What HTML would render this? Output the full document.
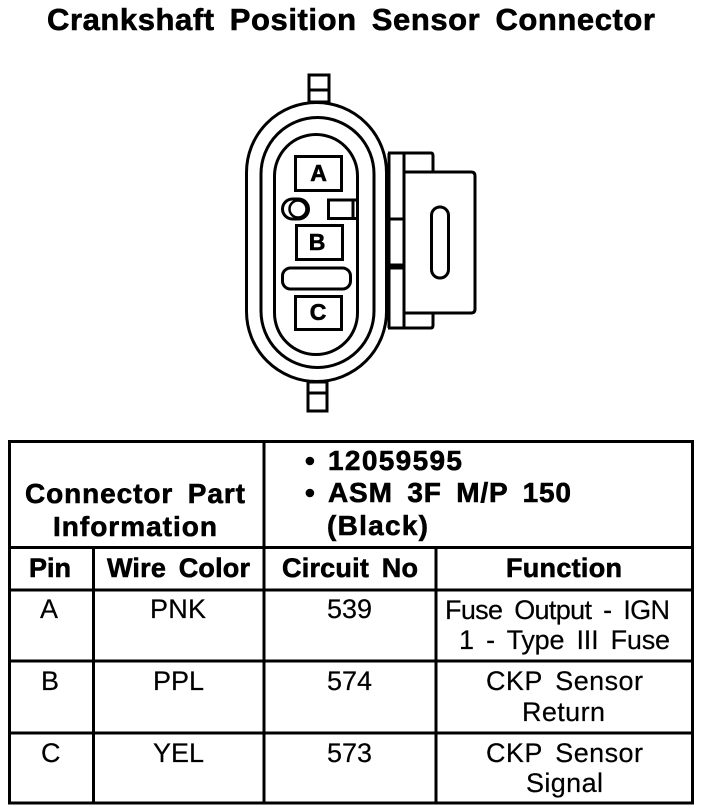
<!DOCTYPE html>
<html><head><meta charset="utf-8"><style>
html,body{margin:0;padding:0;background:#fff}
svg{display:block}
text{font-family:"Liberation Sans",sans-serif;fill:#000}
.b{font-weight:bold;stroke:#000;stroke-width:.6}
.n{stroke:#000;stroke-width:.2}
</style></head><body>
<svg width="704" height="812" viewBox="0 0 704 812" xmlns="http://www.w3.org/2000/svg">
<rect width="704" height="812" fill="#fff"/>
<text class="b" x="47" y="30" font-size="31" textLength="608" word-spacing="6">Crankshaft Position Sensor Connector</text>

<g fill="none" stroke="#000" stroke-width="3">
  <rect x="309" y="75" width="20" height="27"/><path d="M309 90H329"/>
  <rect x="308" y="382" width="19" height="29"/><path d="M308 393H327"/>
  <rect x="246.500" y="102.500" width="140" height="279" rx="70" ry="70"/>
  <rect x="261" y="117.500" width="113" height="250" rx="56.500" ry="56.500"/>
  <rect x="274.500" y="134.500" width="83" height="220" rx="41.500" ry="41.500"/>
  <rect x="295.500" y="156.500" width="46" height="34"/>
  <rect x="296.500" y="225.500" width="46" height="34"/>
  <rect x="295.500" y="296.500" width="46" height="33"/>
  <rect x="282.500" y="268" width="68" height="21" rx="8"/>
  <rect x="282.500" y="199" width="26" height="20" rx="10"/>
  <circle cx="298" cy="209" r="8.500" stroke-width="2.500"/>
  <path d="M358 200H328.500V218.500H358M353 200V218.500"/>
  <path d="M388 153H431Q433 153 433 156V171M389 153V328M404 153V328M388 219H404M388 265H404M388 268H404M388 328H431Q433 328 433 325V313"/>
  <path d="M404 172H471Q475 172 475 176V309Q475 313 471 313H404"/>
  <rect x="431.500" y="207" width="17" height="71" rx="8.500"/>
</g>
<text class="b" x="318.500" y="181" font-size="23" text-anchor="middle">A</text>
<text class="b" x="317" y="250" font-size="23" text-anchor="middle">B</text>
<text class="b" x="318" y="320" font-size="23" text-anchor="middle">C</text>

<g fill="none" stroke="#000" stroke-width="3">
  <rect x="9.500" y="441.500" width="683" height="361.500"/>
  <path d="M9 547.500H693M9 590H693M9 661H693M9 733H693"/>
  <path d="M264 441V803M93.500 547V803M436 547V803"/>
</g>

<g class="b" font-size="28">
  <text x="25" y="503" textLength="220" word-spacing="6">Connector Part</text>
  <text x="53" y="536" textLength="164">Information</text>
  <text x="305" y="470">•</text>
  <text x="328" y="470" textLength="134">12059595</text>
  <text x="305" y="502">•</text>
  <text x="328" y="502" textLength="243" word-spacing="6">ASM 3F M/P 150</text>
  <text x="327" y="535" textLength="101">(Black)</text>
</g>
<g class="b" font-size="27">
  <text x="29" y="577" textLength="42">Pin</text>
  <text x="107" y="577" textLength="143" word-spacing="5">Wire Color</text>
  <text x="282" y="577" textLength="136" word-spacing="5">Circuit No</text>
  <text x="506" y="577" textLength="116">Function</text>
</g>
<g class="n" font-size="27">
  <text x="40" y="618" textLength="20">A</text><text x="150" y="618" textLength="56">PNK</text><text x="327" y="618" textLength="45">539</text>
  <text x="445" y="619" textLength="225" word-spacing="5">Fuse Output - IGN</text>
  <text x="459" y="649" textLength="211" word-spacing="5">1 - Type III Fuse</text>
  <text x="41" y="690" textLength="18">B</text><text x="153" y="690" textLength="51">PPL</text><text x="327" y="690" textLength="45">574</text>
  <text x="486" y="690" textLength="157" word-spacing="5">CKP Sensor</text>
  <text x="522" y="721" textLength="83">Return</text>
  <text x="41" y="762" textLength="19">C</text><text x="153" y="762" textLength="51">YEL</text><text x="327" y="762" textLength="45">573</text>
  <text x="486" y="762" textLength="157" word-spacing="5">CKP Sensor</text>
  <text x="526" y="792" textLength="77">Signal</text>
</g>
</svg>
</body></html>
